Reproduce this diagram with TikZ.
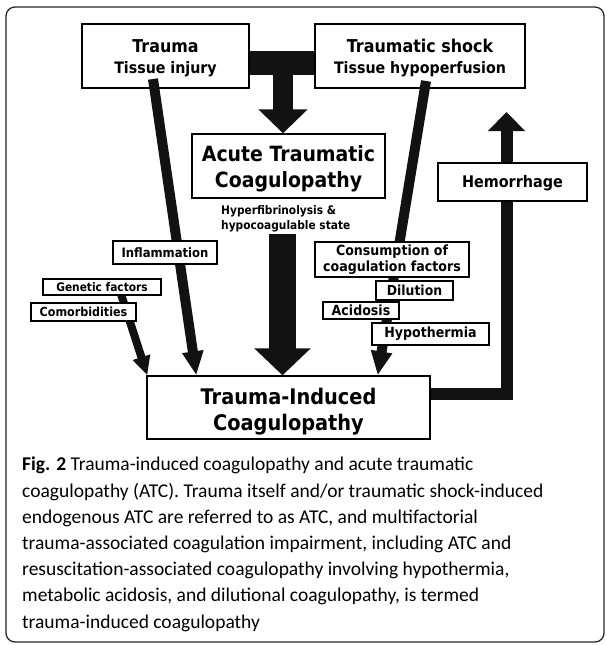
\documentclass[tikz,border=0pt]{standalone}
\usepackage{fontspec}
\setmainfont{DejaVu Sans}[FakeStretch=0.9]
\newfontfamily\capfont{Carlito}
\usetikzlibrary{arrows.meta}
\begin{document}
\begin{tikzpicture}[x=1pt,y=-1pt,
  box/.style={draw=black, line width=1.4pt, fill=white, inner sep=0pt, align=center, font=\bfseries},
  fat/.style={draw=black!93, line cap=butt, line join=miter},
]
\useasboundingbox (0,0) rectangle (607,645);
\draw[line width=1.3pt, rounded corners=9pt, draw=black!85] (6,7) rectangle (604,642);

% main boxes
\node[box, minimum width=167pt, minimum height=64pt, font=\bfseries\fontsize{17.7}{20.5}\selectfont] (trauma) at (165.5,56)
  {\rule{0pt}{17.5pt}Trauma\\\fontsize{15.8}{20.5}\selectfont Tissue injury};
\node[box, minimum width=210pt, minimum height=64pt, font=\bfseries\fontsize{17.7}{20.5}\selectfont] (shock) at (420,56)
  {\rule{0pt}{17.5pt}Traumatic shock\\\fontsize{15.8}{20.5}\selectfont Tissue hypoperfusion};
\node[box, minimum width=193pt, minimum height=64pt, font=\bfseries\fontsize{21}{26}\selectfont] (atc) at (288.5,166)
  {\rule{0pt}{22pt}Acute Traumatic\\Coagulopathy};
\node[box, minimum width=283pt, minimum height=63pt, font=\bfseries\fontsize{21.5}{26}\selectfont] (tic) at (288.5,407.5)
  {\rule{0pt}{24pt}Trauma-Induced\\Coagulopathy};
\node[anchor=west, inner sep=0pt, align=left, font=\bfseries\fontsize{11.8}{15}\selectfont] (hfs) at (221,218.5)
  {Hyperfibrinolysis \&\\hypocoagulable state};

% coordinates for connector ends
\coordinate (tj) at (283,63);
\coordinate (hs) at (282.5,234);
\coordinate (t1) at (153,79);
\coordinate (s1) at (426,81);
\coordinate (c1) at (119,288);
\coordinate (htip) at (506.5,112);

% connectors
\draw[fat, line width=24pt] ([yshift=-7pt]trauma.east) -- ([yshift=-7pt]shock.west);
\draw[fat, line width=20pt, -{Triangle[width=48pt,length=24pt]}] (tj) -- (tj |- atc.north);
\draw[fat, line width=27pt, -{Triangle[width=55pt,length=27pt]}] (hs) -- (hs |- tic.north);
\draw[fat, line width=10pt, -{Triangle[width=20pt,length=24pt]}] (t1) -- ([xshift=50pt]tic.north west);
\draw[fat, line width=10pt, -{Triangle[width=20pt,length=24pt]}] (s1) -- ([xshift=-53pt]tic.north east);
\draw[fat, line width=8pt, -{Triangle[width=17pt,length=19pt]}] (c1) -- ([xshift=1pt]tic.north west);
\draw[fat, line width=12pt, -{Triangle[width=36pt,length=19pt]}] ([yshift=13.5pt]tic.east) -| (htip);

% factor boxes
\node[box, minimum width=104pt, minimum height=23pt, font=\bfseries\fontsize{12.9}{15}\selectfont] (inflam) at (165,252.5) {Inflammation};
\node[box, minimum width=118pt, minimum height=16pt, font=\bfseries\fontsize{11.8}{14}\selectfont] (genetic) at (102,287) {Genetic factors};
\node[box, minimum width=105pt, minimum height=18pt, font=\bfseries\fontsize{12.4}{14}\selectfont] (comorb) at (83.5,312) {Comorbidities};
\node[box, minimum width=154pt, minimum height=35pt, font=\bfseries\fontsize{14}{16}\selectfont] (consump) at (392,259.5) {Consumption of\\coagulation factors};
\node[box, minimum width=77pt, minimum height=19pt, font=\bfseries\fontsize{13.8}{16}\selectfont] (dilution) at (414.5,290.5) {Dilution};
\node[box, minimum width=76pt, minimum height=17pt, font=\bfseries\fontsize{14}{16}\selectfont] (acidosis) at (361,310.5) {Acidosis};
\node[box, minimum width=117pt, minimum height=22pt, font=\bfseries\fontsize{14}{16}\selectfont] (hypo) at (430.5,334) {Hypothermia};
\node[box, minimum width=149pt, minimum height=38pt, font=\bfseries\fontsize{16}{18}\selectfont] (hem) at (512.5,182) {\rule{0pt}{14pt}Hemorrhage};

% caption
\node[anchor=north west, inner sep=0pt, align=left, font=\capfont\fontsize{19.5}{26.2}\selectfont] (cap) at (22,457)
  {{\bfseries Fig. 2} Trauma-induced coagulopathy and acute traumatic\\
   coagulopathy (ATC). Trauma itself and/or traumatic shock-induced\\
   endogenous ATC are referred to as ATC, and multifactorial\\
   trauma-associated coagulation impairment, including ATC and\\
   resuscitation-associated coagulopathy involving hypothermia,\\
   metabolic acidosis, and dilutional coagulopathy, is termed\\
   trauma-induced coagulopathy};
\end{tikzpicture}
\end{document}
